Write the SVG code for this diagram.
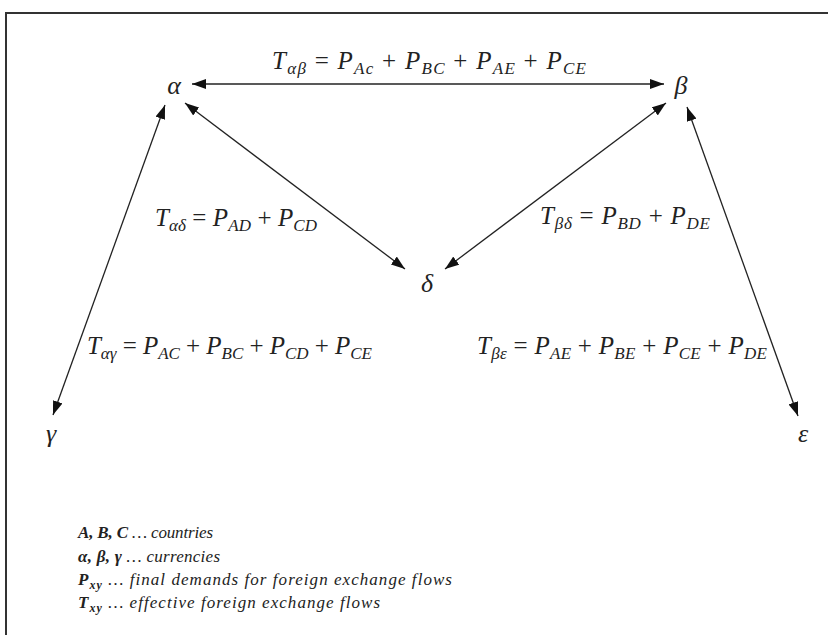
<svg xmlns="http://www.w3.org/2000/svg" width="828" height="635" viewBox="0 0 828 635">
<style>
.f{font-family:"Liberation Serif","DejaVu Serif",serif;font-style:italic;fill:#222}
.big{font-size:25px}
.node{font-size:26px}
.sub{font-size:17px}
.up{font-style:normal}
.leg{font-size:17px}
.b{font-weight:bold}
.conn line{stroke:#222;stroke-width:1.3;fill:none}
</style>
<defs>
<marker id="ah" viewBox="0 0 14 10" refX="14" refY="5" markerWidth="14" markerHeight="10" markerUnits="userSpaceOnUse" orient="auto-start-reverse">
<path d="M0,0 L14,5 L0,10 Z" fill="#111"/>
</marker>
</defs>
<rect width="828" height="635" fill="#fff"/>
<path d="M6,635 V13 H828" fill="none" stroke="#333" stroke-width="2"/>
<g class="conn">
<line x1="192" y1="84" x2="664" y2="84" marker-start="url(#ah)" marker-end="url(#ah)"/>
<line x1="185" y1="103" x2="405" y2="269" marker-start="url(#ah)" marker-end="url(#ah)"/>
<line x1="445" y1="269" x2="666" y2="103" marker-start="url(#ah)" marker-end="url(#ah)"/>
<line x1="165" y1="105" x2="53" y2="415" marker-start="url(#ah)" marker-end="url(#ah)"/>
<line x1="687" y1="107" x2="798" y2="416" marker-start="url(#ah)" marker-end="url(#ah)"/>
</g>
<g id="alpha"><text class="f node" x="174" y="94" text-anchor="middle">α</text></g>
<g id="beta"><text class="f node" x="681" y="94" text-anchor="middle">β</text></g>
<g id="delta"><text class="f node" x="427" y="292" text-anchor="middle">δ</text></g>
<g id="gamma"><text class="f node" x="51" y="442" text-anchor="middle">γ</text></g>
<g id="epsilon"><text class="f node" x="803" y="442" text-anchor="middle">ε</text></g>
<g id="labels">
<text class="f big" x="272" y="69" textLength="314" lengthAdjust="spacing">T<tspan class="sub" dy="5">αβ</tspan><tspan class="up" dy="-5"> = </tspan>P<tspan class="sub" dy="5">Ac</tspan><tspan class="up" dy="-5"> + </tspan>P<tspan class="sub" dy="5">BC</tspan><tspan class="up" dy="-5"> + </tspan>P<tspan class="sub" dy="5">AE</tspan><tspan class="up" dy="-5"> + </tspan>P<tspan class="sub" dy="5">CE</tspan></text>
<text class="f big" x="155" y="226" textLength="162" lengthAdjust="spacing">T<tspan class="sub" dy="5">αδ</tspan><tspan class="up" dy="-5"> = </tspan>P<tspan class="sub" dy="5">AD</tspan><tspan class="up" dy="-5"> + </tspan>P<tspan class="sub" dy="5">CD</tspan></text>
<text class="f big" x="540" y="224" textLength="170" lengthAdjust="spacing">T<tspan class="sub" dy="5">βδ</tspan><tspan class="up" dy="-5"> = </tspan>P<tspan class="sub" dy="5">BD</tspan><tspan class="up" dy="-5"> + </tspan>P<tspan class="sub" dy="5">DE</tspan></text>
<text class="f big" x="87" y="354" textLength="285" lengthAdjust="spacing">T<tspan class="sub" dy="5">αγ</tspan><tspan class="up" dy="-5"> = </tspan>P<tspan class="sub" dy="5">AC</tspan><tspan class="up" dy="-5"> + </tspan>P<tspan class="sub" dy="5">BC</tspan><tspan class="up" dy="-5"> + </tspan>P<tspan class="sub" dy="5">CD</tspan><tspan class="up" dy="-5"> + </tspan>P<tspan class="sub" dy="5">CE</tspan></text>
<text class="f big" x="477" y="354" textLength="290" lengthAdjust="spacing">T<tspan class="sub" dy="5">βε</tspan><tspan class="up" dy="-5"> = </tspan>P<tspan class="sub" dy="5">AE</tspan><tspan class="up" dy="-5"> + </tspan>P<tspan class="sub" dy="5">BE</tspan><tspan class="up" dy="-5"> + </tspan>P<tspan class="sub" dy="5">CE</tspan><tspan class="up" dy="-5"> + </tspan>P<tspan class="sub" dy="5">DE</tspan></text>
</g>
<g id="legend">
<text class="f leg" x="78" y="538" textLength="135" lengthAdjust="spacing"><tspan class="b">A, B, C</tspan> … countries</text>
<text class="f leg" x="78" y="562" textLength="142" lengthAdjust="spacing"><tspan class="b">α, β, γ</tspan> … currencies</text>
<text class="f leg" x="78" y="585" textLength="374" lengthAdjust="spacing"><tspan class="b">P</tspan><tspan class="b" font-size="12" dy="4">xy</tspan><tspan dy="-4"> … final demands for foreign exchange flows</tspan></text>
<text class="f leg" x="78" y="608" textLength="302" lengthAdjust="spacing"><tspan class="b">T</tspan><tspan class="b" font-size="12" dy="4">xy</tspan><tspan dy="-4"> … effective foreign exchange flows</tspan></text>
</g>
</svg>
